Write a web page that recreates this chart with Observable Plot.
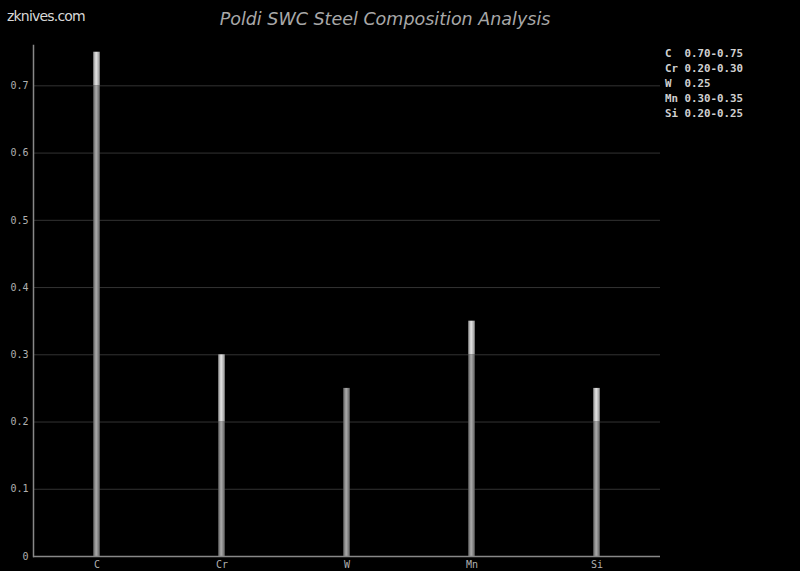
<!DOCTYPE html>
<html>
<head>
<meta charset="utf-8">
<script src="https://cdn.jsdelivr.net/npm/d3@7"></script>
<script src="https://cdn.jsdelivr.net/npm/@observablehq/plot@0.6"></script>
<style>
  html, body { margin: 0; padding: 0; background: #000; }
  #wrap { position: relative; width: 800px; height: 571px; background: #000; overflow: hidden; }
  #site { position: absolute; left: 7px; top: 8px; font: 14px "DejaVu Sans", sans-serif; color: #d8d8d8; letter-spacing: -0.8px; }
  #title { position: absolute; left: 0; width: 770px; top: 9px; text-align: center; font: italic 17.5px "DejaVu Sans", sans-serif; color: #a8a8a8; }
  #legend { position: absolute; left: 665px; top: 46px; font: bold 10.8px "DejaVu Sans Mono", monospace; color: #d0d0d0; line-height: 15px; white-space: pre; }
</style>
</head>
<body>
<div id="wrap">
  <div id="chart"></div>
  <div id="site">zknives.com</div>
  <div id="title">Poldi SWC Steel Composition Analysis</div>
  <div id="legend"></div>
</div>
<script>
const elements = ["C", "Cr", "W", "Mn", "Si"];
const minValues = [0.70, 0.20, 0.25, 0.30, 0.20];
const maxValues = [0.75, 0.30, 0.25, 0.35, 0.25];
const legendLabels = ["C  0.70-0.75", "Cr 0.20-0.30", "W  0.25", "Mn 0.30-0.35", "Si 0.20-0.25"];
const yTicks = [0, 0.1, 0.2, 0.3, 0.4, 0.5, 0.6, 0.7];

const lower = elements.map((e, i) => ({el: e, y1: 0, y2: minValues[i]}));
const upper = elements.map((e, i) => ({el: e, y1: minValues[i], y2: maxValues[i]}))
  .filter(d => d.y2 > d.y1);

const defs = () => {
  const g = d3.create("svg:defs");
  const mk = (id, edge, mid) => {
    const lg = g.append("linearGradient").attr("id", id).attr("x1", "0").attr("x2", "1").attr("y1", "0").attr("y2", "0");
    lg.append("stop").attr("offset", "0%").attr("stop-color", edge);
    lg.append("stop").attr("offset", "45%").attr("stop-color", mid);
    lg.append("stop").attr("offset", "100%").attr("stop-color", edge);
  };
  mk("gLow", "#606060", "#acacac");
  mk("gHigh", "#909090", "#e4e4e4");
  return g.node();
};

const inset = (627 / 5 - 7) / 2;

const plot = Plot.plot({
  width: 800,
  height: 571,
  marginTop: 45,
  marginBottom: 15,
  marginLeft: 33,
  marginRight: 140,
  style: { background: "#000", color: "#b0b0b0", fontFamily: "DejaVu Sans Mono, monospace", fontSize: "10px" },
  x: { type: "band", domain: elements, padding: 0, label: null, tickSize: 0, tickPadding: 4 },
  y: { domain: [0, 0.76], ticks: yTicks, label: null, tickSize: 0, tickPadding: 5, tickFormat: d => d === 0 ? "0" : d3.format(".1f")(d) },
  marks: [
    defs,
    Plot.ruleY(yTicks.filter(t => t > 0), { stroke: "#333", strokeWidth: 1 }),
    Plot.rectY(lower, { x: "el", y1: "y1", y2: "y2", fill: "url(#gLow)", insetLeft: inset, insetRight: inset }),
    Plot.rectY(upper, { x: "el", y1: "y1", y2: "y2", fill: "url(#gHigh)", insetLeft: inset, insetRight: inset }),
    Plot.ruleY([0], { stroke: "#888", strokeWidth: 1.5 }),
    Plot.frame({ anchor: "left", stroke: "#888", strokeWidth: 1.5 })
  ]
});
document.getElementById("chart").appendChild(plot);
document.getElementById("legend").textContent = legendLabels.join("\n");
</script>
</body>
</html>
